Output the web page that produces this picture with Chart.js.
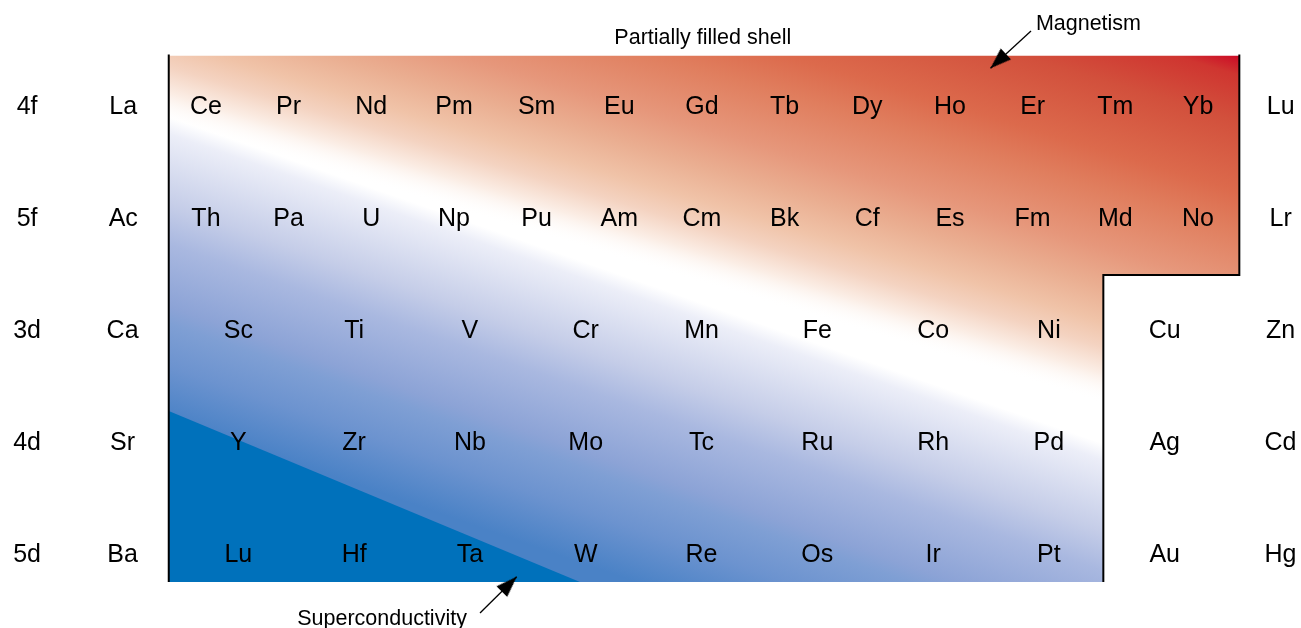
<!DOCTYPE html>
<html>
<head>
<meta charset="utf-8">
<script src="https://cdn.jsdelivr.net/npm/chart.js@4.4.1/dist/chart.umd.min.js"></script>
<style>
    html, body { margin: 0; padding: 0; background: #ffffff; overflow: hidden; }
    #quadro { width: 1301px; height: 628px; position: relative; }
    #tabela { display: block; }
</style>
</head>
<body>
<div id="quadro"><canvas id="tabela"></canvas></div>
<script>
// linhas da tabela (de cima para baixo)
var linhas = ['4f', '5f', '3d', '4d', '5d'];

// linhas f: coluna 0 = La/Ac ... coluna 14 = Lu/Lr
var serie4f = ['La', 'Ce', 'Pr', 'Nd', 'Pm', 'Sm', 'Eu', 'Gd', 'Tb', 'Dy', 'Ho', 'Er', 'Tm', 'Yb', 'Lu'];
var serie5f = ['Ac', 'Th', 'Pa', 'U', 'Np', 'Pu', 'Am', 'Cm', 'Bk', 'Cf', 'Es', 'Fm', 'Md', 'No', 'Lr'];
// linhas d: coluna 0 = Ca/Sr/Ba ... coluna 10 = Zn/Cd/Hg
var serie3d = ['Ca', 'Sc', 'Ti', 'V', 'Cr', 'Mn', 'Fe', 'Co', 'Ni', 'Cu', 'Zn'];
var serie4d = ['Sr', 'Y', 'Zr', 'Nb', 'Mo', 'Tc', 'Ru', 'Rh', 'Pd', 'Ag', 'Cd'];
var serie5d = ['Ba', 'Lu', 'Hf', 'Ta', 'W', 'Re', 'Os', 'Ir', 'Pt', 'Au', 'Hg'];

// camada parcialmente preenchida (colunas f, linhas)
var camadaEsq = 0.55;      // entre La e Ce
var camadaDir = 13.5;      // entre Yb e Lu
var camadaTopo = -0.442;
var camadaBase = 4.262;
var degrauColunaD = 8.47;  // entre Ni e Cu (colunas d)
var degrauLinha = 1.517;
var bordaAzul = [[0.55, 2.733], [5.524, 4.262]];

// anotações
var anotacoes = ['Partially filled shell', 'Magnetism', 'Superconductivity'];
var anotacoesX = [7.01, 11.675, 3.13];
var anotacoesY = [-0.618, -0.744, 4.574];
var setaMagnetismo = [[10.98, -0.663], [10.49, -0.33]];
var setaSupercondutividade = [[4.315, 4.538], [4.759, 4.214]];

// faixas dos eixos
var eixoF = { min: -0.838, max: 14.246 };
var eixoD = { min: -0.592, max: 10.177 };
var eixoLinhas = { min: -0.94, max: 4.672 };

function colunaDparaF(d) {
    return eixoF.min + (d - eixoD.min) * (eixoF.max - eixoF.min) / (eixoD.max - eixoD.min);
}

var degrauF = colunaDparaF(degrauColunaD);
var contornoCamada = [
    { x: camadaEsq, y: camadaBase },
    { x: degrauF, y: camadaBase },
    { x: degrauF, y: degrauLinha },
    { x: camadaDir, y: degrauLinha }
];

function pontosDaLinha(nomes, linha) {
    return nomes.map(function (nome, i) { return { x: i, y: linha }; });
}

function pontosPar(par) {
    return par.map(function (p) { return { x: p[0], y: p[1] }; });
}

function gradienteCamada(chart, nx, ny, d0, d1, cores) {
    var area = chart.chartArea;
    if (!area) return 'rgba(0,0,0,0)';
    var cx = chart.scales.xf.getPixelForValue(camadaDir);
    var cy = chart.scales.y.getPixelForValue(camadaTopo);
    var g = chart.ctx.createLinearGradient(cx + nx * d0, cy + ny * d0, cx + nx * d1, cy + ny * d1);
    cores.forEach(function (c) { g.addColorStop(c[0], c[1]); });
    return g;
}

function gradienteAzul(context) {
    return gradienteCamada(context.chart, 0.33, -0.944, -696, -411, [
        [0, '#4a82c6'],
        [0.175, '#6c93cf'],
        [0.316, '#7f9fd4'],
        [0.372, '#8ca3d6'],
        [0.579, '#a9b8e0'],
        [0.709, '#c5cde8'],
        [0.944, '#eceef8'],
        [1, '#ffffff']
    ]);
}

function gradienteVermelho(context) {
    return gradienteCamada(context.chart, 0.287, -0.958, -372, 0, [
        [0, 'rgba(255,255,255,0)'],
        [0.075, 'rgba(251,238,230,1)'],
        [0.145, '#f4d3c1'],
        [0.21, '#f0c3a8'],
        [0.3, '#eaae91'],
        [0.4, '#e6977b'],
        [0.55, '#e07e5e'],
        [0.65, '#dc6a4c'],
        [0.83, '#d2503c'],
        [0.95, '#cf3530'],
        [1, '#cc0a26']
    ]);
}

// ponta de seta estreita (aponta para cima, ponta no centro da imagem)
var pontaSeta = document.createElement('canvas');
pontaSeta.width = 16;
pontaSeta.height = 42;
(function () {
    var c = pontaSeta.getContext('2d');
    c.fillStyle = '#000000';
    c.beginPath();
    c.moveTo(8, 21);
    c.lineTo(15.5, 42);
    c.lineTo(0.5, 42);
    c.closePath();
    c.fill();
})();

// escreve os símbolos no lugar de cada ponto (centro das maiúsculas no ponto)
var rotulosPlugin = {
    id: 'rotulos',
    afterDatasetsDraw: function (chart) {
        var ctx = chart.ctx;
        chart.data.datasets.forEach(function (ds, i) {
            if (!ds.rotulos) return;
            var meta = chart.getDatasetMeta(i);
            ctx.save();
            ctx.font = ds.fonte + 'px "Liberation Sans", Arial, sans-serif';
            ctx.fillStyle = '#000000';
            ctx.textAlign = 'center';
            ctx.textBaseline = 'alphabetic';
            meta.data.forEach(function (pt, j) {
                ctx.fillText(ds.rotulos[j], pt.x, pt.y + ds.fonte * 0.36);
            });
            ctx.restore();
        });
    }
};

var transparente = 'rgba(0,0,0,0)';

function serieElementos(nomes, linha, eixo) {
    return {
        label: linhas[linha],
        data: pontosDaLinha(nomes, linha),
        xAxisID: eixo,
        pointRadius: 0,
        showLine: false,
        rotulos: nomes,
        fonte: 25,
        order: 0
    };
}

function seta(par) {
    return {
        label: 'seta',
        data: pontosPar(par),
        xAxisID: 'xf',
        showLine: true,
        borderColor: '#000000',
        borderWidth: 1.3,
        pointStyle: pontaSeta,
        pointRadius: [0, 1],
        pointHoverRadius: 0,
        pointBorderWidth: 0,
        pointRotation: [0, par === setaMagnetismo ? 227 : 45],
        fill: false,
        order: 1
    };
}

function semPadding(scale) {
    scale.paddingTop = 0;
    scale.paddingBottom = 0;
    scale.paddingLeft = 0;
    scale.paddingRight = 0;
}

var ctx = document.getElementById('tabela');

var grafico = new Chart(ctx, {
    type: 'scatter',
    data: {
        datasets: [
            {
                label: 'topo',
                data: [{ x: camadaEsq, y: camadaTopo }, { x: camadaDir, y: camadaTopo }],
                xAxisID: 'xf',
                showLine: true,
                borderColor: transparente,
                pointRadius: 0,
                fill: false,
                order: 9
            },
            {
                label: 'camada azul',
                data: contornoCamada,
                xAxisID: 'xf',
                showLine: true,
                borderColor: transparente,
                backgroundColor: gradienteAzul,
                pointRadius: 0,
                fill: '-1',
                order: 8
            },
            {
                label: 'camada vermelha',
                data: contornoCamada,
                xAxisID: 'xf',
                showLine: true,
                borderColor: transparente,
                backgroundColor: gradienteVermelho,
                pointRadius: 0,
                fill: '-2',
                order: 7
            },
            {
                label: 'supercondutividade',
                data: pontosPar(bordaAzul),
                xAxisID: 'xf',
                showLine: true,
                borderColor: transparente,
                backgroundColor: '#0071bb',
                pointRadius: 0,
                fill: { value: camadaBase },
                order: 6
            },
            {
                label: 'contorno esquerdo',
                data: [{ x: camadaEsq, y: camadaTopo - 0.01 }, { x: camadaEsq, y: camadaBase }],
                xAxisID: 'xf',
                showLine: true,
                borderColor: '#000000',
                borderWidth: 2,
                pointRadius: 0,
                fill: false,
                order: 2
            },
            {
                label: 'contorno direito',
                data: [
                    { x: camadaDir, y: camadaTopo - 0.01 },
                    { x: camadaDir, y: degrauLinha },
                    { x: degrauF, y: degrauLinha },
                    { x: degrauF, y: camadaBase }
                ],
                xAxisID: 'xf',
                showLine: true,
                borderColor: '#000000',
                borderWidth: 2,
                pointRadius: 0,
                fill: false,
                order: 2
            },
            seta(setaMagnetismo),
            seta(setaSupercondutividade),
            serieElementos(serie4f, 0, 'xf'),
            serieElementos(serie5f, 1, 'xf'),
            serieElementos(serie3d, 2, 'xd'),
            serieElementos(serie4d, 3, 'xd'),
            serieElementos(serie5d, 4, 'xd'),
            {
                label: 'anotações',
                data: anotacoesX.map(function (x, i) { return { x: x, y: anotacoesY[i] }; }),
                xAxisID: 'xf',
                pointRadius: 0,
                showLine: false,
                rotulos: anotacoes,
                fonte: 21.5,
                order: 0
            }
        ]
    },
    options: {
        responsive: true,
        maintainAspectRatio: false,
        animation: false,
        events: [],
        layout: { padding: 0, autoPadding: false },
        plugins: {
            legend: { display: false },
            tooltip: { enabled: false }
        },
        scales: {
            xf: {
                type: 'linear',
                axis: 'x',
                display: false,
                min: eixoF.min,
                max: eixoF.max,
                ticks: { display: false },
                afterFit: semPadding
            },
            xd: {
                type: 'linear',
                axis: 'x',
                display: false,
                min: eixoD.min,
                max: eixoD.max,
                ticks: { display: false },
                afterFit: semPadding
            },
            y: {
                type: 'linear',
                reverse: true,
                min: eixoLinhas.min,
                max: eixoLinhas.max,
                grid: { display: false, drawTicks: false },
                border: { display: false },
                afterFit: function (scale) {
                    semPadding(scale);
                    scale.width = 54;
                },
                afterBuildTicks: function (scale) {
                    scale.ticks = linhas.map(function (l, i) { return { value: i }; });
                },
                ticks: {
                    padding: 13,
                    labelOffset: 2,
                    crossAlign: 'center',
                    color: '#000000',
                    font: { family: '"Liberation Sans", Arial, sans-serif', size: 25 },
                    callback: function (valor) { return linhas[valor]; }
                }
            }
        }
    },
    plugins: [rotulosPlugin]
});
</script>
</body>
</html>
